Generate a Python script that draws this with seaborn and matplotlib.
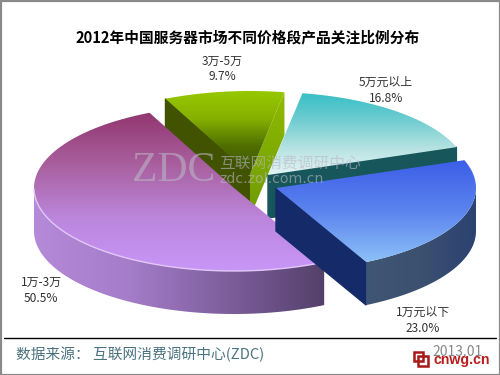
#!/usr/bin/env python3
# -*- coding: utf-8 -*-
import numpy as np
import matplotlib
matplotlib.use('Agg')
import matplotlib.pyplot as plt
from matplotlib.patches import Polygon, Rectangle
import seaborn as sns

# data, counter-clockwise from the purple slice
labels = ['1万-3万', '1万元以下', '5万元以上', '3万-5万']
shares = [50.5, 23.0, 16.8, 9.7]
share_text = ['50.5%', '23.0%', '16.8%', '9.7%']

title = '2012年中国服务器市场不同价格段产品关注比例分布'
source = '数据来源： 互联网消费调研中心(ZDC)'
date_text = '2013.01'

sns.set_theme(style='white')
plt.rcParams['font.family'] = ['Noto Sans CJK SC', 'DejaVu Sans']

fig = plt.figure(figsize=(5, 3.75), dpi=100)
ax = fig.add_axes([0, 0, 1, 1])

# pie geometry, in pixels
A, B, DEPTH = 200, 83, 43
START = 115
centers = [(234, 188), (276, 188), (268, 175), (250, 174)]


def edge(c, t):
    t = np.radians(t)
    return np.column_stack([c[0] + A * np.cos(t), c[1] - B * np.sin(t)])


def grad(pts, colors, horizontal=False, z=1):
    pts = np.asarray(pts)
    cmap = sns.blend_palette(colors, as_cmap=True)
    g = np.linspace(0, 1, 256)
    g = g[None, :] if horizontal else g[:, None]
    x0, x1, y0, y1 = pts[:, 0].min(), pts[:, 0].max(), pts[:, 1].min(), pts[:, 1].max()
    im = ax.imshow(g, cmap=cmap, extent=[x0, x1, y1, y0], aspect='auto', zorder=z, interpolation='bilinear')
    im.set_clip_path(Polygon(pts, closed=True, transform=ax.transData))


def drop(pts):
    return np.asarray(pts) + [0, DEPTH]


# angle range of every slice comes from the shares
ends = START + np.cumsum(shares) * 3.6
starts = np.r_[START, ends[:-1]]
arcs = [np.linspace(s, e, 120) for s, e in zip(starts, ends)]

purple_c, blue_c, cyan_c, green_c = centers

# green slice
top = np.vstack([[green_c], edge(green_c, arcs[3])])
a_in, a_out = edge(green_c, arcs[3][-1])[0], edge(green_c, arcs[3][0])[0]
ax.add_patch(Polygon([green_c, a_in, a_in + [0, DEPTH], np.add(green_c, [0, DEPTH])], color='#415200', zorder=1))
grad([a_out, a_out + [0, DEPTH], np.add(green_c, [0, DEPTH]), green_c], ['#8fbb00', '#6f9a00'], z=2)
grad(top, ['#97c800', '#86b000', '#4f6e00', '#3c5000'], z=3)

# cyan slice
top = np.vstack([[cyan_c], edge(cyan_c, arcs[2])])
a = edge(cyan_c, arcs[2][0])[0]
ax.add_patch(Polygon([cyan_c, a, a + [0, DEPTH], np.add(cyan_c, [0, DEPTH])], color='#17565a', zorder=4))
grad(top, ['#37bfc6', '#6fcdd0', '#b5e2e2', '#e4f4f4'], z=5)

# purple slice
side_t = arcs[0][arcs[0] >= 180]
side = np.vstack([edge(purple_c, side_t), drop(edge(purple_c, side_t))[::-1]])
grad(side, ['#b58ad8', '#a47cc8', '#7d5e9c', '#54406a'], horizontal=True, z=6)
top = np.vstack([[purple_c], edge(purple_c, arcs[0])])
grad(top, ['#92366f', '#a9609f', '#bb86dc', '#c896f8'], z=7)
ax.plot(*edge(purple_c, side_t).T, color='#e2c8fa', lw=1, zorder=8)

# blue slice
a = edge(blue_c, arcs[1][0])[0]
ax.add_patch(Polygon([blue_c, a, a + [0, DEPTH], np.add(blue_c, [0, DEPTH])], color='#152a68', zorder=9))
side_t = arcs[1][arcs[1] <= 360]
side = np.vstack([edge(blue_c, side_t), drop(edge(blue_c, side_t))[::-1]])
grad(side, ['#3f5674', '#3c5070', '#2c4270'], horizontal=True, z=10)
top = np.vstack([[blue_c], edge(blue_c, arcs[1])])
grad(top, ['#3c5ee8', '#5c84ee', '#8cc0f8'], z=11)

# watermark
wm = dict(color='#b9b6c4', alpha=0.6, zorder=12, va='center')
ax.text(132, 171, 'ZDC', fontsize=30, family='Liberation Serif', **wm)
ax.text(219, 163, '互联网消费调研中心', fontsize=11.3, **wm)
ax.text(219, 179, 'zdc.zol.com.cn', fontsize=10.2, family='DejaVu Sans', **wm)

# slice labels
label_pos = [(41, 282), (423, 312), (386, 82), (222, 61)]
for name, val, (x, y) in zip(labels, share_text, label_pos):
    ax.text(x, y, name, ha='center', va='center', fontsize=8.6, color='#333333', zorder=13)
    ax.text(x, y + 16, val, ha='center', va='center', fontsize=8.6, color='#333333', zorder=13)

ax.text(248, 37, title, ha='center', va='center', fontsize=10.6, fontweight='bold', color='black')

# footer
ax.plot([4, 496], [338, 338], color='black', lw=1)
ax.text(16, 355, source, ha='left', va='center', fontsize=10.6, color='#4a7380')
ax.text(432, 352, date_text, ha='left', va='center', fontsize=10, color='#888888')
ax.add_patch(Rectangle((414, 352), 9, 9, fill=False, ec='#a81818', lw=1.8, zorder=14))
ax.add_patch(Rectangle((418, 356), 10, 10, fill=False, ec='#a81818', lw=1.8, zorder=14))
ax.text(434, 360, 'cnwg.cn', ha='left', va='center', fontsize=10.2, fontweight='bold', color='#b81c1c',
        family='Liberation Sans', zorder=14)

# image border
ax.add_patch(Rectangle((0.5, 0.5), 499, 374, fill=False, ec='#8a8a8a', lw=1.6, zorder=15))

ax.set_xlim(0, 500)
ax.set_ylim(375, 0)
ax.axis('off')
fig.savefig('out.png', dpi=100)
